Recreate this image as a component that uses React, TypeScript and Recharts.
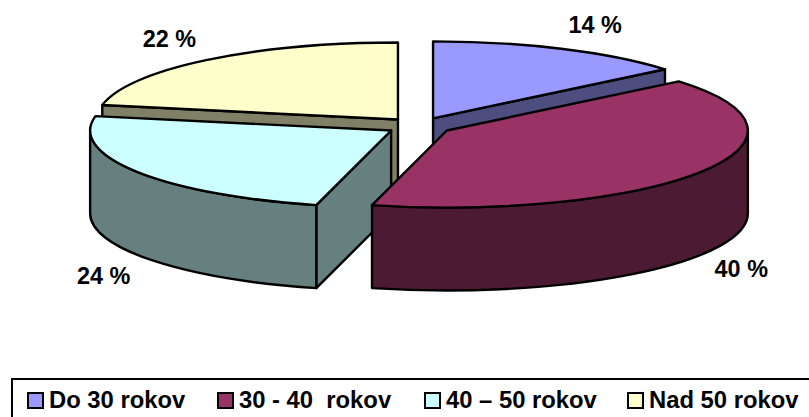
import React from 'react';
import { PieChart, Pie, Legend } from 'recharts';

const categories = ['Do 30 rokov', '30 - 40  rokov', '40 – 50 rokov', 'Nad 50 rokov'];
const shares = [14, 40, 24, 22];
const topColors = ['#9999ff', '#993366', '#ccffff', '#ffffcc'];
const sideColors = ['#4d4d80', '#4d1a33', '#668080', '#808066'];

// back slices first, the 40 % slice sits in front of everything
const paintOrder = [3, 0, 2, 1];

const table = categories.map((name, i) => ({ name, value: shares[i] }));

const SQUASH = 77 / 301;
const DEPTH = 83;
const EXPLODE = 33;
const RAD = Math.PI / 180;
const FONT = '"Liberation Sans", Arial, sans-serif';

// nudges for the percent labels, in the order of the categories
const labelNudge = [
  [10, 1],
  [-7, -1],
  [14, 6],
  [-1, 0],
];
const legendLeft = [27, 217, 424, 627];

const sliceShape = (own: number) => (props: any) => {
  const { cx, cy, outerRadius: r, startAngle, endAngle } = props;
  const index = categories.indexOf(props.name ?? props.payload?.name);
  if (index !== own) return <g />;

  const mid = ((startAngle + endAngle) / 2) * RAD;
  const ax = cx + EXPLODE * Math.cos(mid);
  const ay = cy - EXPLODE * SQUASH * Math.sin(mid);
  const at = (deg: number, drop = 0) =>
    `${ax + r * Math.cos(deg * RAD)} ${ay - r * SQUASH * Math.sin(deg * RAD) + drop}`;
  const rim = `A ${r} ${r * SQUASH} 0`;
  const large = startAngle - endAngle > 180 ? 1 : 0;

  const face = (deg: number) =>
    `M ${ax} ${ay} L ${at(deg)} L ${at(deg, DEPTH)} L ${ax} ${ay + DEPTH} Z`;

  // a cut face only shows when it turns towards the viewer
  const showStart = Math.cos(startAngle * RAD) < -1e-6;
  const showEnd = Math.cos(endAngle * RAD) > 1e-6;

  // outer wall only where the rim faces the viewer
  const wallFrom = Math.min(startAngle, 0);
  const wallTo = Math.max(endAngle, -180);
  const hasWall = wallFrom > wallTo;

  const edge = {
    stroke: '#000',
    strokeWidth: 2.4,
    strokeLinejoin: 'round' as const,
  };

  return (
    <g>
      {showStart && <path d={face(startAngle)} fill={sideColors[own]} {...edge} />}
      {showEnd && <path d={face(endAngle)} fill={sideColors[own]} {...edge} />}
      {hasWall && (
        <path
          d={`M ${at(wallFrom)} ${rim} 0 1 ${at(wallTo)} L ${at(wallTo, DEPTH)} ${rim} 0 0 ${at(wallFrom, DEPTH)} Z`}
          fill={sideColors[own]}
          {...edge}
        />
      )}
      <path
        d={`M ${ax} ${ay} L ${at(startAngle)} ${rim} ${large} 1 ${at(endAngle)} Z`}
        fill={topColors[own]}
        {...edge}
      />
    </g>
  );
};

const sliceLabel = (own: number) => (props: any) => {
  const { cx, cy, midAngle, value, index } = props;
  if (index !== own) return <g />;
  const s = Math.sin(midAngle * RAD);
  const c = Math.cos(midAngle * RAD);
  const x = cx + 390 * c + labelNudge[own][0];
  const y = cy - 113 * s + (s < 0 ? DEPTH : 0) + labelNudge[own][1];
  return (
    <text
      x={x}
      y={y}
      textAnchor="middle"
      dominantBaseline="central"
      fontFamily={FONT}
      fontWeight="bold"
      fontSize={23.4}
      fill="#000"
    >
      {`${value} %`}
    </text>
  );
};

const LegendBox = () => (
  <div
    style={{
      position: 'relative',
      width: 820,
      height: 60,
      boxSizing: 'border-box',
      border: '2px solid #000',
      background: '#fff',
      fontFamily: FONT,
      fontWeight: 'bold',
      fontSize: 23.8,
      color: '#000',
      whiteSpace: 'pre',
    }}
  >
    {categories.map((name, i) => (
      <div
        key={name}
        style={{ position: 'absolute', left: legendLeft[i] - 13, top: 6, lineHeight: '27px' }}
      >
        <span
          style={{
            display: 'inline-block',
            boxSizing: 'border-box',
            width: 17,
            height: 17,
            marginRight: 5,
            verticalAlign: '-1px',
            background: topColors[i],
            border: '2.5px solid #000',
          }}
        />
        {name}
      </div>
    ))}
  </div>
);

export default function App() {
  return (
    <div style={{ position: 'absolute', left: 0, top: 0, width: 809, height: 417, overflow: 'hidden', background: '#fff' }}>
      <PieChart width={809} height={417} margin={{ top: 0, right: 0, bottom: 0, left: 0 }}>
        {paintOrder.map((own) => (
          <Pie
            key={own}
            data={table}
            dataKey="value"
            nameKey="name"
            cx={419}
            cy={126}
            outerRadius={301}
            innerRadius={0}
            startAngle={90}
            endAngle={-270}
            stroke="none"
            shape={sliceShape(own)}
            label={sliceLabel(own)}
            labelLine={false}
            legendType="none"
            isAnimationActive={false}
          />
        ))}
        <Legend
          content={<LegendBox />}
          layout="horizontal"
          verticalAlign="bottom"
          align="left"
          wrapperStyle={{ position: 'absolute', left: 11, top: 378, bottom: 'auto', width: 820, margin: 0 }}
        />
      </PieChart>
    </div>
  );
}
